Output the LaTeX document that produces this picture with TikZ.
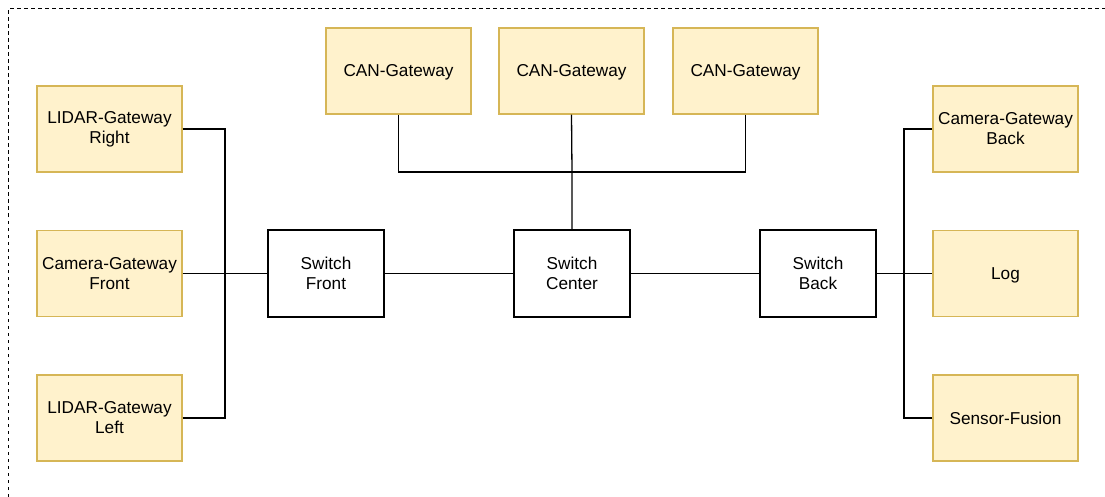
\documentclass[tikz,border=0pt]{standalone}
\usepackage{fontspec}
\setmainfont{Liberation Sans}
\definecolor{gwfill}{HTML}{FFF2CC}
\definecolor{gwline}{HTML}{D6B656}
\begin{document}
\begin{tikzpicture}[x=1pt,y=-1pt,
  box/.style={minimum width=145pt,minimum height=86pt,inner sep=0pt,align=center,
    font=\fontsize{17.2}{20}\selectfont,line width=1.2pt},
  gw/.style={box,draw=gwline,fill=gwfill},
  sw/.style={box,draw=black,minimum width=116pt,minimum height=87pt},
  oneline/.style={text depth=0pt,text height=12pt},
  wire/.style={line width=1.3pt,black}]
\useasboundingbox (0,0) rectangle (1105,497);
% enclosing dashed frame
\draw[dashed,dash pattern=on 3.5pt off 3.5pt,line width=1pt] (8,497) -- (8,9) -- (1105,9);

% gateways on the left
\node[gw] (lr) at (109.5,129) {LIDAR-Gateway\\Right};
\node[gw] (cf) at (109.5,273.5) {Camera-Gateway\\Front};
\node[gw] (ll) at (109.5,418) {LIDAR-Gateway\\Left};
% CAN gateways on top
\node[gw,oneline] (can1) at (398.5,71) {CAN-Gateway};
\node[gw,oneline] (can2) at (571.5,71) {CAN-Gateway};
\node[gw,oneline] (can3) at (745.5,71) {CAN-Gateway};
% units on the right
\node[gw] (cb) at (1005.5,129) {Camera-Gateway\\Back};
\node[gw,oneline] (lg) at (1005.5,273.5) {Log};
\node[gw,oneline] (sfu) at (1005.5,418) {Sensor-Fusion};
% switches
\node[sw] (sf) at (326,273.5) {Switch\\Front};
\node[sw] (sc) at (572,273.5) {Switch\\Center};
\node[sw] (sb) at (818,273.5) {Switch\\Back};

% junction points of the bus wiring
\coordinate (jl) at (225,273.5);
\coordinate (jc) at (572,172);
\coordinate (jr) at (904,273.5);

\draw[wire] (lr.east) -| (jl);
\draw[wire] (ll.east) -| (jl);
\draw[wire] (cf.east) -- (sf.west);

\draw[wire] (can1.south) |- (jc);
\draw[wire] (can3.south) |- (jc);
\draw[wire] (can2.south) -- (jc) -- (sc.north);

\draw[wire] (cb.west) -| (jr);
\draw[wire] (sfu.west) -| (jr);
\draw[wire] (sb.east) -- (lg.west);

\draw[wire] (sf.east) -- (sc.west);
\draw[wire] (sc.east) -- (sb.west);
\end{tikzpicture}
\end{document}
